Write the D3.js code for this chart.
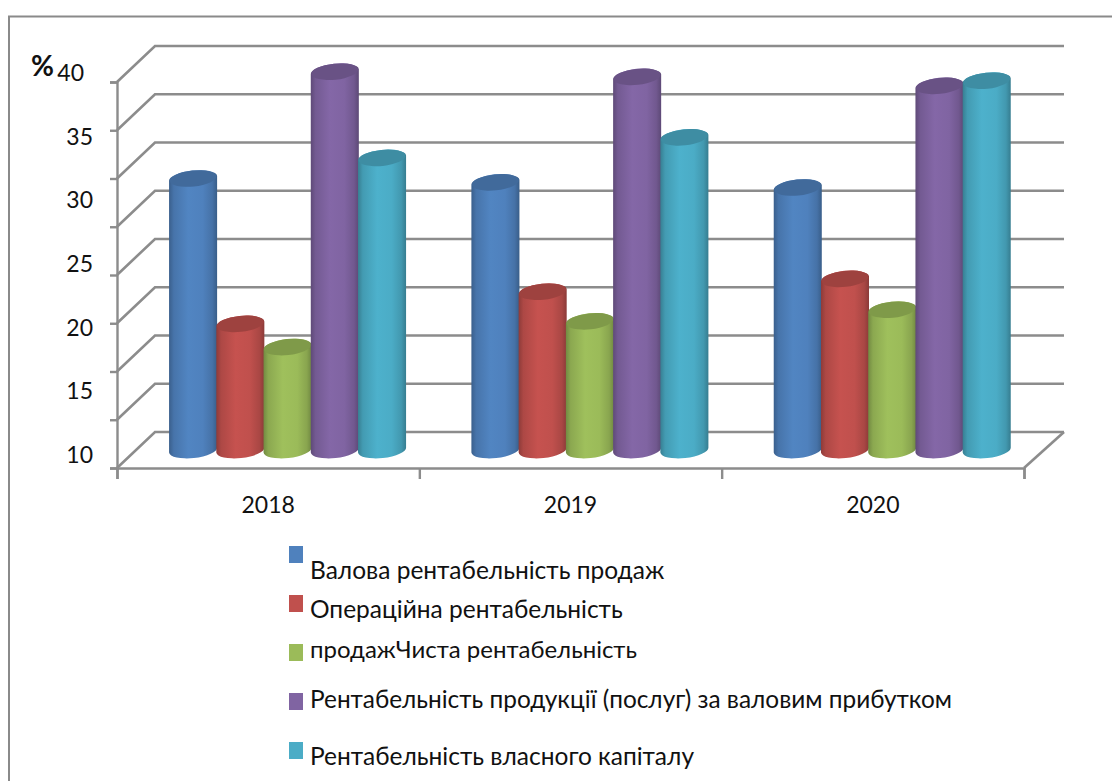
<!DOCTYPE html>
<html><head><meta charset="utf-8">
<script src="https://cdn.jsdelivr.net/npm/d3@7"></script>
<style>html,body{margin:0;padding:0;background:#fff}svg{display:block}text{font-family:Lato,"Noto Sans",sans-serif;fill:#111}</style>
</head><body><div id="c"></div>
<script>
const years = ["2018","2019","2020"];
const seriesNames = ["Валова рентабельність продаж","Операційна рентабельність","продажЧиста рентабельність","Рентабельність продукції (послуг) за валовим прибутком","Рентабельність власного капіталу"];
const gross = [31.1,30.8,30.4];
const operating = [19.8,22.3,23.3];
const net = [18.0,20.0,20.9];
const production = [39.4,39.0,38.3];
const equity = [32.7,34.3,38.7];
const yLabels = [10,15,20,25,30,35,40];
const gridSteps = [0,1,2,3,4,5,6,7,8];
const colors = ["#4f81bd","#c0504d","#9bbb59","#8064a2","#4bacc6"];
const values = [gross,operating,net,production,equity];

const W=1112,H=781;
const svg=d3.select("#c").append("svg").attr("width",W).attr("height",H);
const defs=svg.append("defs");
const x0=117,x1=1024,yBottom=468,yTop=82,dx=38,dxRight=40,dy=36;
const grey="#8c8c8c";

// frame: top and left edges only, as in the reference crop
svg.append("path").attr("d",`M9,${H}V16.5H${W}`).attr("fill","none").attr("stroke","#8a8a8a").attr("stroke-width",2);

const y=d3.scaleLinear().domain([10,40]).range([yBottom,yTop]);
const stepY=d3.scaleLinear().domain([0,8]).range([10,40]);
const xBand=d3.scaleBand().domain(years).range([x0,x1]);
const xInner=d3.scaleBand().domain(d3.range(5)).range([0,xBand.bandwidth()]).paddingOuter(0.7).paddingInner(0);

// back gridlines and side-wall
const gridG=svg.append("g").attr("fill","none").attr("stroke",grey).attr("stroke-width",2.6);
gridG.selectAll("path").data(gridSteps).join("path")
 .attr("d",s=>{const p=d3.path(),yy=y(stepY(s));p.moveTo(x0,yy);p.lineTo(x0+dx,yy-dy);p.lineTo(x1+dxRight,yy-dy);return p.toString();});
// floor right edge
gridG.append("path").attr("d",`M${x1},${yBottom}L${x1+dxRight},${yBottom-dy}`);

// axes
const axL=d3.axisLeft(d3.scaleLinear().domain([10,40]).range([yBottom,yTop])).tickValues(gridSteps.map(stepY)).tickSize(7).tickFormat("");
const gL=svg.append("g").attr("transform",`translate(${x0},0)`).call(axL);
const tickScale=d3.scaleLinear().domain([0,3]).range([x0,x1]);
const axB=d3.axisBottom(tickScale).tickValues([0,1,2,3]).tickSize(11).tickFormat("");
const gB=svg.append("g").attr("transform",`translate(0,${yBottom})`).call(axB);
[gL,gB].forEach(g=>{g.selectAll("path,line").attr("stroke",grey).attr("stroke-width",2.4);});

// gradients
const shade=(c,k)=>k>0?d3.color(c).brighter(k).formatHex():d3.color(c).darker(-k).formatHex();
colors.forEach((c,i)=>{
 const g=defs.append("linearGradient").attr("id","g"+i).attr("x1","0").attr("x2","1").attr("y1","0").attr("y2","0");
 [[0,-0.85],[0.1,-0.3],[0.4,0.08],[0.7,0],[0.9,-0.35],[1,-0.9]].forEach(([o,k])=>g.append("stop").attr("offset",o).attr("stop-color",shade(c,k)));
});

// cylinders
const rotDeg=-6,ry=8;
const cyl=svg.append("g");
const floorOffsetX=dx/2, floorOffsetY=dy/2;
years.forEach((yr,j)=>{
 values.forEach((ser,i)=>{
  const w=xInner.bandwidth()+0.8;
  const left=xBand(yr)+xInner(i)+floorOffsetX;
  const right=left+w, cx=(left+right)/2, rx=w/2;
  const top=y(ser[j])-floorOffsetY, base=y(10)-floorOffsetY;
  const t=Math.tan(-rotDeg*Math.PI/180)*rx;
  cyl.append("path")
   .attr("d",`M${left},${top+t}L${left},${base+t}A${rx},${ry} ${rotDeg} 0 0 ${right},${base-t}L${right},${top-t}A${rx},${ry} ${rotDeg} 0 0 ${left},${top+t}Z`)
   .attr("fill",`url(#g${i})`);
  cyl.append("ellipse").attr("cx",cx).attr("cy",top).attr("rx",rx-0.5).attr("ry",ry)
   .attr("transform",`rotate(${rotDeg} ${cx} ${top})`)
   .attr("fill",shade(colors[i],-0.55));
 });
});

// value labels (sit above their ticks as in the original)
const labelY=d3.scaleLinear().domain([10,40]).range([463,81]);
svg.append("g").selectAll("text").data(yLabels).join("text")
 .attr("x",d=>d===40?84:93).attr("y",d=>labelY(d)).attr("text-anchor","end").attr("font-size",23).text(d=>d);
svg.append("text").attr("x",31).attr("y",76).attr("font-size",28).attr("font-weight",700).text("%");

// category labels
svg.append("g").selectAll("text").data(years).join("text")
 .attr("x",d=>xBand(d)+xBand.bandwidth()/2).attr("y",513).attr("text-anchor","middle").attr("font-size",23).text(d=>d);

// legend
const legendBase=[579,618,658,708,765], swatchTop=[546,595,644,693,742];
const legendSize=[24.5,24.5,24,24.4,24.5];
const lg=svg.append("g");
seriesNames.forEach((n,i)=>{
 lg.append("rect").attr("x",289).attr("y",swatchTop[i]).attr("width",14).attr("height",17).attr("fill",colors[i]);
 lg.append("text").attr("x",310).attr("y",legendBase[i]).attr("font-size",legendSize[i]).text(n);
});
</script></body></html>
